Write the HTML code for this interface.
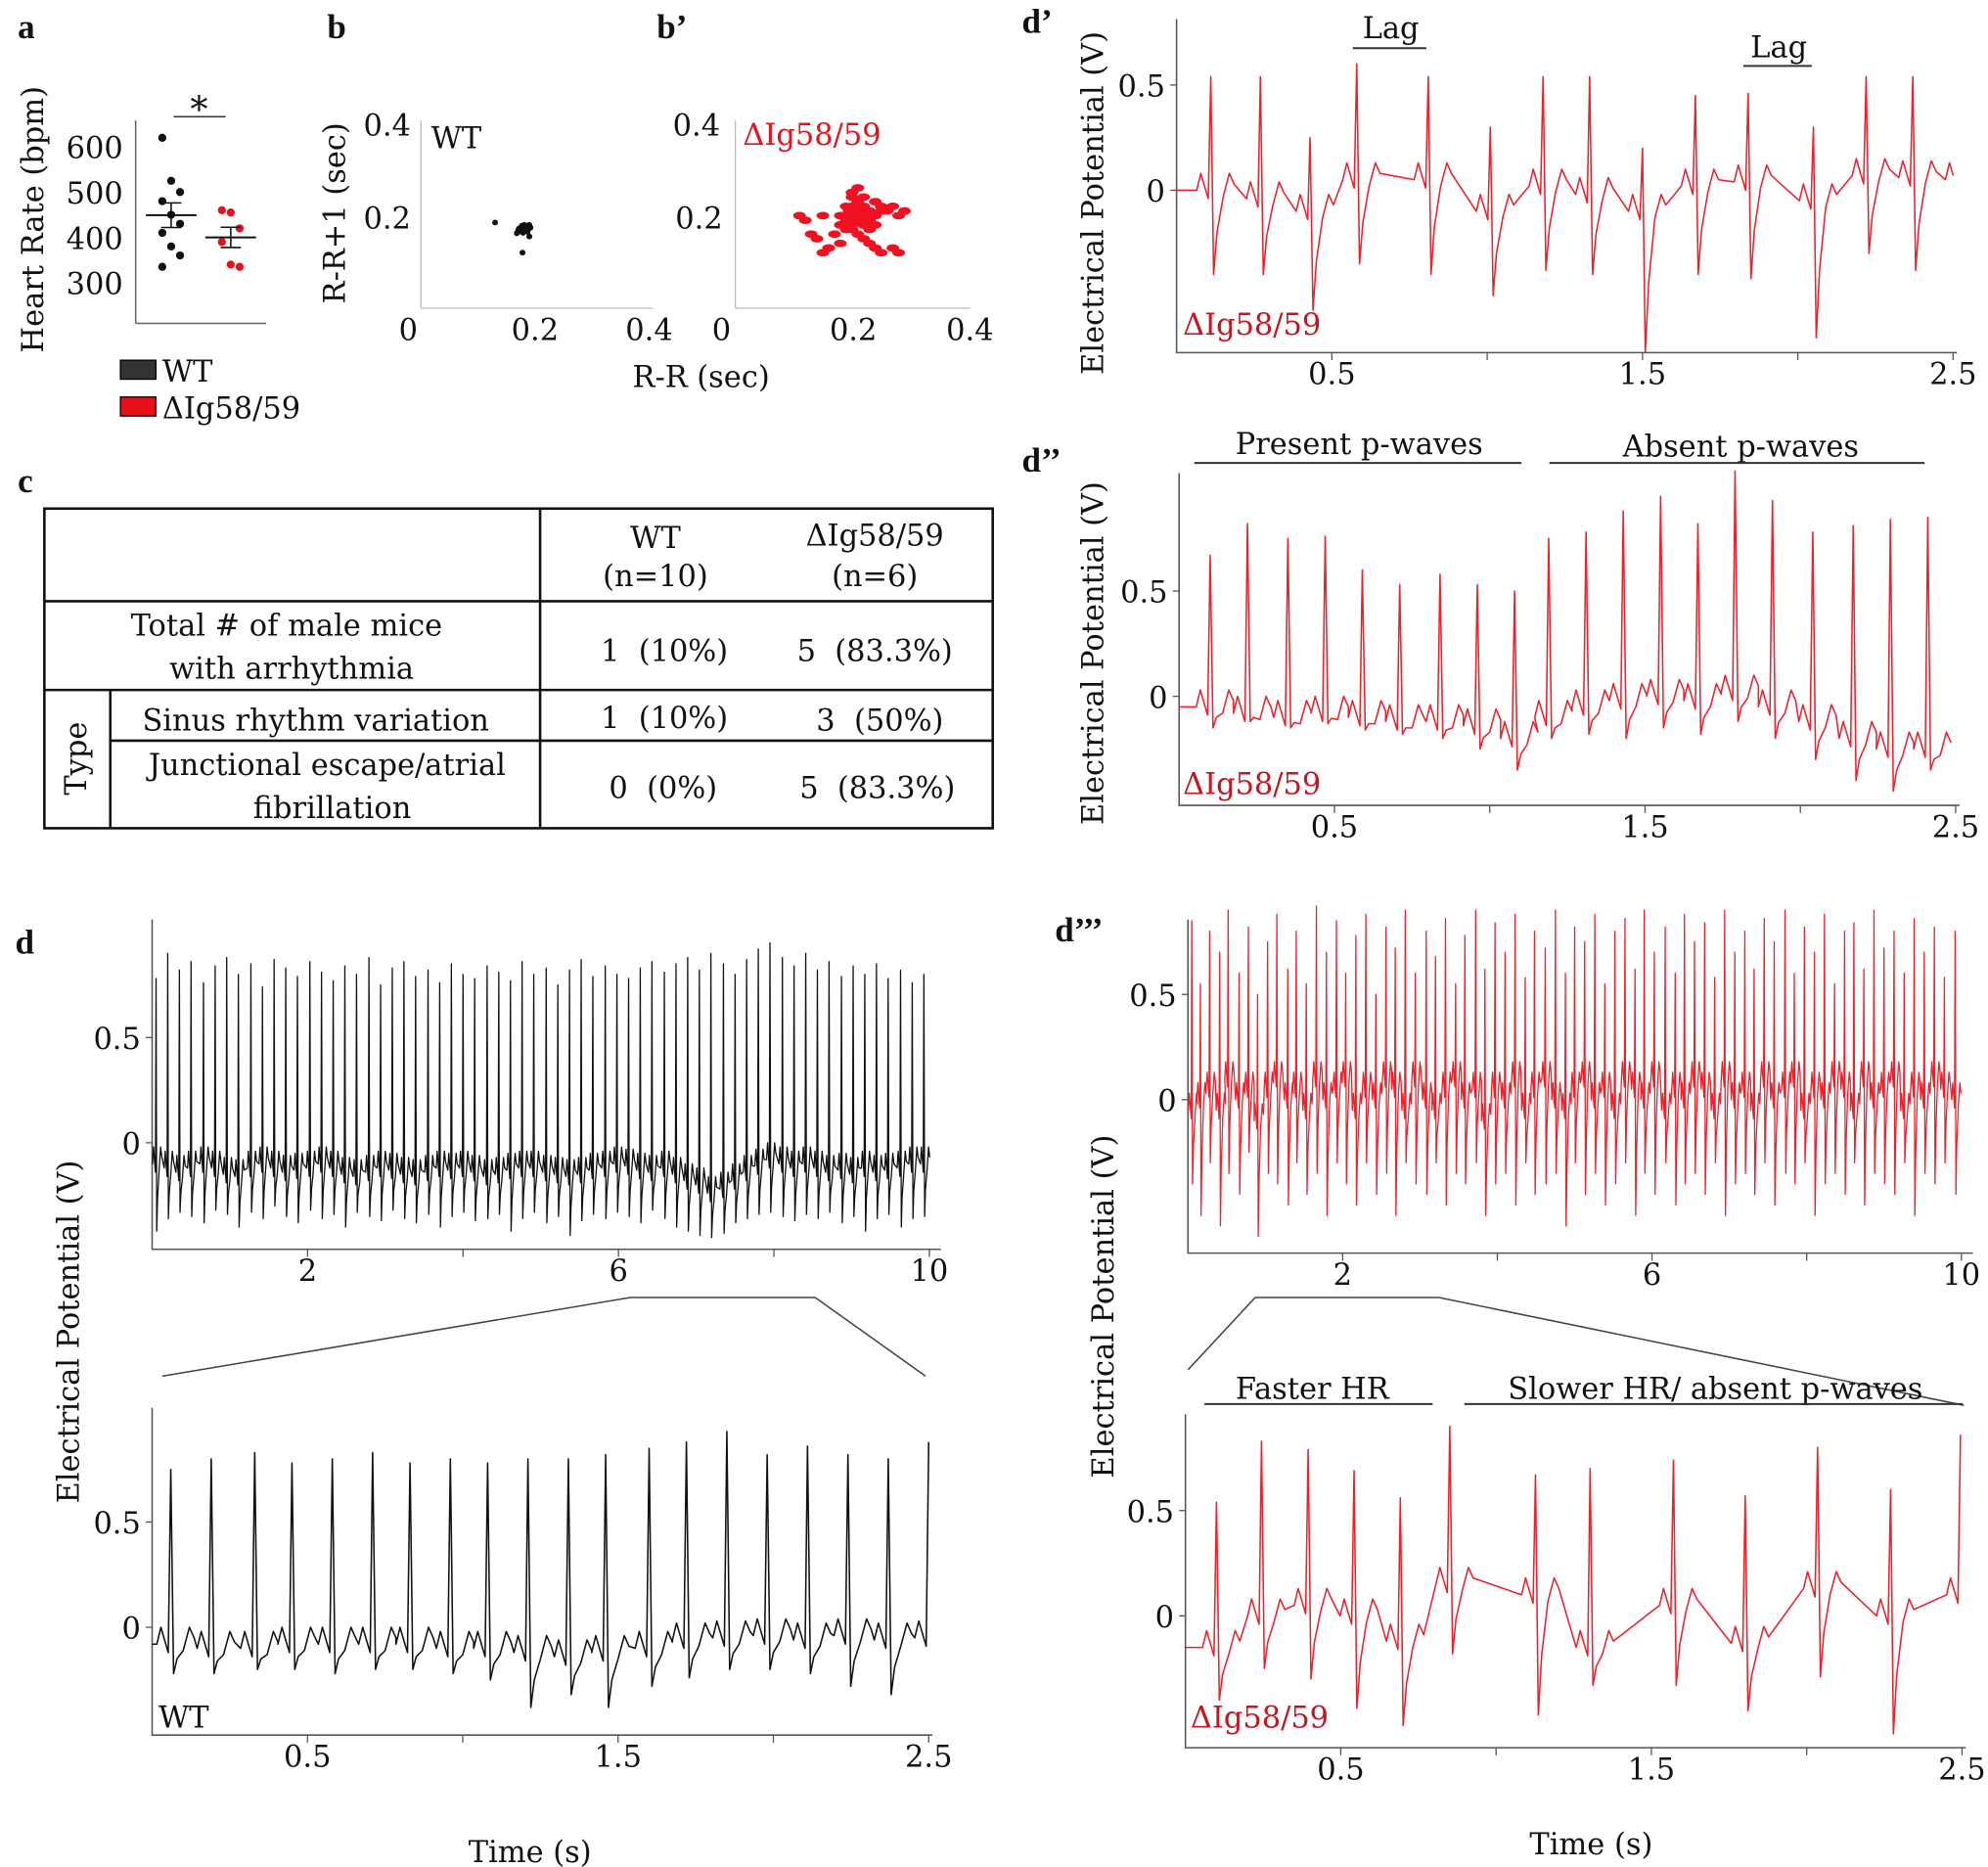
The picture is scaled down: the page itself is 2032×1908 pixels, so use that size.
<!DOCTYPE html>
<html><head><meta charset="utf-8"><style>
html,body{margin:0;padding:0;background:#fff}
svg{display:block}
text{font-family:"DejaVu Serif","Liberation Serif",serif;fill:#111;font-size:23.5px}
.b{font-weight:bold;font-family:"Liberation Serif",serif;font-size:27px}
</style></head><body>
<svg id="fig" xmlns="http://www.w3.org/2000/svg" width="2032" height="1908" viewBox="0 0 1568 1472" preserveAspectRatio="none">
<g>
<text class="b" x="14" y="30">a</text>
<text transform="translate(34,173) rotate(-90)" text-anchor="middle">Heart Rate (bpm)</text>
<line x1="107" y1="95" x2="107" y2="255" stroke="#666" stroke-width="1.2"/>
<line x1="107" y1="255" x2="210" y2="255" stroke="#666" stroke-width="1.2"/>
<text x="157" y="96" text-anchor="middle" style="font-size:28px">*</text>
<line x1="137" y1="92" x2="178" y2="92" stroke="#333" stroke-width="1.2"/>
<g id="aTicks"></g><g id="aPts"></g>
<rect x="95" y="284" width="28" height="15" fill="#333" stroke="#000"/>
<text x="128" y="301">WT</text>
<rect x="95" y="313" width="28" height="15" fill="#e8101a" stroke="#000"/>
<text x="128" y="330">ΔIg58/59</text>
</g>
<g>
<text class="b" x="258" y="30">b</text>
<text class="b" x="518" y="30">b’</text>
<text transform="translate(272,168) rotate(-90)" text-anchor="middle">R-R+1 (sec)</text>
<line x1="332" y1="95" x2="332" y2="243" stroke="#bbb"/>
<line x1="332" y1="243" x2="515" y2="243" stroke="#bbb"/>
<line x1="580" y1="95" x2="580" y2="243" stroke="#bbb"/>
<line x1="580" y1="243" x2="765" y2="243" stroke="#bbb"/>
<text x="324" y="107" text-anchor="end">0.4</text>
<text x="324" y="180" text-anchor="end">0.2</text>
<text x="322" y="268" text-anchor="middle">0</text>
<text x="422" y="268" text-anchor="middle">0.2</text>
<text x="512" y="268" text-anchor="middle">0.4</text>
<text x="568" y="107" text-anchor="end">0.4</text>
<text x="570" y="180" text-anchor="end">0.2</text>
<text x="569" y="268" text-anchor="middle">0</text>
<text x="673" y="268" text-anchor="middle">0.2</text>
<text x="765" y="268" text-anchor="middle">0.4</text>
<text x="340" y="117">WT</text>
<text x="586" y="114" style="fill:#e8101a">ΔIg58/59</text>
<text x="553" y="305" text-anchor="middle">R-R (sec)</text>
<g id="bPts"></g>
</g>
<g>
<text class="b" x="14" y="388">c</text>
<rect x="35" y="401" width="748" height="252" fill="none" stroke="#111" stroke-width="2"/>
<line x1="426" y1="401" x2="426" y2="653" stroke="#111" stroke-width="2"/>
<line x1="35" y1="474" x2="783" y2="474" stroke="#111" stroke-width="2"/>
<line x1="35" y1="544" x2="783" y2="544" stroke="#111" stroke-width="2"/>
<line x1="87" y1="584" x2="783" y2="584" stroke="#111" stroke-width="2"/>
<line x1="87" y1="544" x2="87" y2="653" stroke="#111" stroke-width="2"/>
<text x="517" y="432" text-anchor="middle">WT</text>
<text x="517" y="462" text-anchor="middle">(n=10)</text>
<text x="690" y="430" text-anchor="middle">ΔIg58/59</text>
<text x="690" y="462" text-anchor="middle">(n=6)</text>
<text x="226" y="501" text-anchor="middle">Total # of male mice</text>
<text x="230" y="535" text-anchor="middle">with arrhythmia</text>
<text x="524" y="521" text-anchor="middle" xml:space="preserve">1  (10%)</text>
<text x="690" y="521" text-anchor="middle" xml:space="preserve">5  (83.3%)</text>
<text transform="translate(68,598) rotate(-90)" text-anchor="middle">Type</text>
<text x="249" y="576" text-anchor="middle">Sinus rhythm variation</text>
<text x="524" y="574" text-anchor="middle" xml:space="preserve">1  (10%)</text>
<text x="694" y="576" text-anchor="middle" xml:space="preserve">3  (50%)</text>
<text x="258" y="611" text-anchor="middle">Junctional escape/atrial</text>
<text x="262" y="645" text-anchor="middle">fibrillation</text>
<text x="523" y="629" text-anchor="middle" xml:space="preserve">0  (0%)</text>
<text x="692" y="629" text-anchor="middle" xml:space="preserve">5  (83.3%)</text>
</g>
<g>
<text class="b" x="12" y="752">d</text>
<text transform="translate(62,1050) rotate(-90)" text-anchor="middle">Electrical Potential (V)</text>
<text x="418" y="1468" text-anchor="middle">Time (s)</text>
<text x="125" y="1362">WT</text>
<polyline points="128,1085 497,1023 643,1023 730,1085" fill="none" stroke="#444" stroke-width="1.2"/>
<text class="b" x="806" y="26">d’</text>
<text transform="translate(870,160) rotate(-90)" text-anchor="middle">Electrical Potential (V)</text>
<text x="1097" y="30" text-anchor="middle">Lag</text>
<line x1="1067" y1="38" x2="1125" y2="38" stroke="#333" stroke-width="1.5"/>
<text x="1403" y="45" text-anchor="middle">Lag</text>
<line x1="1375" y1="52" x2="1429" y2="52" stroke="#333" stroke-width="1.5"/>
<text x="933" y="264" style="fill:#c8141e">ΔIg58/59</text>
<text class="b" x="806" y="372">d’’</text>
<text transform="translate(870,515) rotate(-90)" text-anchor="middle">Electrical Potential (V)</text>
<text x="1072" y="358" text-anchor="middle">Present p-waves</text>
<line x1="942" y1="365" x2="1200" y2="365" stroke="#333" stroke-width="1.5"/>
<text x="1373" y="360" text-anchor="middle">Absent p-waves</text>
<line x1="1222" y1="365" x2="1518" y2="365" stroke="#333" stroke-width="1.5"/>
<text x="933" y="626" style="fill:#c8141e">ΔIg58/59</text>
<text class="b" x="832" y="742">d’’’</text>
<text transform="translate(878,1030) rotate(-90)" text-anchor="middle">Electrical Potential (V)</text>
<polyline points="937,1080 990,1023 1135,1023 1549,1108" fill="none" stroke="#444" stroke-width="1.2"/>
<text x="1035" y="1103" text-anchor="middle">Faster HR</text>
<line x1="950" y1="1107" x2="1130" y2="1107" stroke="#333" stroke-width="1.5"/>
<text x="1353" y="1103" text-anchor="middle">Slower HR/ absent p-waves</text>
<line x1="1155" y1="1107" x2="1548" y2="1107" stroke="#333" stroke-width="1.5"/>
<text x="939" y="1362" style="fill:#c8141e">ΔIg58/59</text>
<text x="1255" y="1462" text-anchor="middle">Time (s)</text>
</g>
<g id="traces"></g>
</svg>
<script>
const NS="http://www.w3.org/2000/svg";
// ---- panel a data ----
const hrWT=[620,525,500,480,450,430,410,380,360,335];
const hrKO=[460,455,420,390,340,335];
const hrTicks=[300,400,500,600];
// ---- panel b data ----
const rrWTx=[0.17,0.175,0.18,0.185,0.19,0.172,0.178,0.183,0.188,0.192,0.168,0.176,0.181,0.186,0.174,0.179,0.184,0.189,0.171,0.177,0.182,0.187,0.13,0.178,0.19];
const rrWTy=[0.165,0.17,0.175,0.178,0.18,0.172,0.168,0.173,0.176,0.174,0.162,0.176,0.18,0.17,0.166,0.163,0.168,0.172,0.17,0.178,0.166,0.165,0.185,0.12,0.155];
const rrKOx=[0.2,0.21,0.22,0.19,0.23,0.2,0.21,0.22,0.24,0.25,0.18,0.19,0.2,0.21,0.22,0.23,0.26,0.27,0.28,0.29,0.17,0.18,0.2,0.21,0.22,0.24,0.25,0.19,0.2,0.21,0.23,0.22,0.18,0.16,0.15,0.12,0.11,0.13,0.14,0.15,0.16,0.23,0.24,0.25,0.27,0.28,0.2,0.21,0.22,0.19,0.2,0.21,0.22,0.23,0.24,0.2,0.21,0.215,0.205,0.195];
const rrKOy=[0.2,0.21,0.2,0.19,0.21,0.22,0.23,0.22,0.2,0.21,0.18,0.17,0.18,0.19,0.18,0.19,0.21,0.22,0.2,0.21,0.16,0.2,0.25,0.26,0.24,0.23,0.22,0.22,0.17,0.16,0.17,0.15,0.14,0.13,0.2,0.19,0.2,0.16,0.15,0.12,0.13,0.14,0.13,0.12,0.13,0.12,0.24,0.2,0.21,0.2,0.19,0.2,0.19,0.2,0.18,0.21,0.22,0.2,0.19,0.21];
// ---- panel d: WT 10 s ----
const wtT=[0.05,0.2,0.35,0.5,0.66,0.81,0.96,1.11,1.27,1.42,1.57,1.72,1.87,2.03,2.18,2.33,2.48,2.63,2.79,2.94,3.09,3.24,3.39,3.55,3.7,3.85,4.0,4.15,4.31,4.46,4.61,4.76,4.91,5.07,5.22,5.37,5.52,5.67,5.83,5.98,6.13,6.28,6.43,6.59,6.74,6.89,7.04,7.19,7.35,7.5,7.65,7.8,7.95,8.11,8.26,8.41,8.56,8.71,8.87,9.02,9.17,9.32,9.47,9.63,9.78,9.93];
const wtR=[0.78,0.9,0.82,0.86,0.76,0.84,0.88,0.8,0.85,0.74,0.87,0.83,0.79,0.86,0.81,0.77,0.84,0.8,0.88,0.75,0.83,0.86,0.79,0.82,0.76,0.85,0.8,0.78,0.84,0.81,0.77,0.86,0.8,0.83,0.75,0.82,0.87,0.79,0.84,0.8,0.78,0.83,0.86,0.81,0.85,0.88,0.82,0.9,0.85,0.8,0.87,0.92,0.95,0.88,0.84,0.9,0.82,0.86,0.79,0.84,0.8,0.85,0.78,0.82,0.76,0.8];
const wtS=[-0.42,-0.36,-0.33,-0.35,-0.38,-0.32,-0.34,-0.4,-0.33,-0.36,-0.3,-0.35,-0.38,-0.32,-0.36,-0.34,-0.4,-0.33,-0.35,-0.37,-0.32,-0.36,-0.38,-0.34,-0.4,-0.35,-0.33,-0.37,-0.36,-0.34,-0.42,-0.36,-0.33,-0.38,-0.35,-0.44,-0.37,-0.34,-0.36,-0.33,-0.35,-0.38,-0.32,-0.36,-0.4,-0.42,-0.44,-0.45,-0.43,-0.38,-0.36,-0.34,-0.33,-0.35,-0.37,-0.34,-0.36,-0.33,-0.38,-0.35,-0.42,-0.36,-0.34,-0.4,-0.36,-0.35];
const wtB=[-0.1,-0.12,-0.14,-0.12,-0.1,-0.12,-0.15,-0.16,-0.12,-0.1,-0.12,-0.14,-0.13,-0.12,-0.1,-0.12,-0.15,-0.16,-0.14,-0.12,-0.13,-0.15,-0.16,-0.14,-0.12,-0.13,-0.12,-0.14,-0.16,-0.15,-0.13,-0.12,-0.12,-0.14,-0.15,-0.16,-0.15,-0.13,-0.12,-0.1,-0.11,-0.13,-0.14,-0.12,-0.15,-0.18,-0.2,-0.24,-0.22,-0.18,-0.14,-0.11,-0.08,-0.1,-0.12,-0.1,-0.12,-0.14,-0.13,-0.15,-0.12,-0.14,-0.13,-0.12,-0.1,-0.1];
// ---- panel d: WT 2.5 s ----
const wzT=[0.06,0.19,0.33,0.45,0.58,0.71,0.83,0.96,1.08,1.21,1.34,1.46,1.6,1.72,1.85,1.98,2.11,2.24,2.37,2.5];
const wzR=[0.75,0.8,0.83,0.78,0.8,0.83,0.78,0.8,0.78,0.8,0.8,0.82,0.85,0.88,0.93,0.82,0.86,0.82,0.8,0.88];
const wzS=[-0.22,-0.22,-0.2,-0.2,-0.22,-0.2,-0.2,-0.22,-0.25,-0.38,-0.32,-0.38,-0.28,-0.24,-0.2,-0.2,-0.22,-0.28,-0.32,-0.12];
const wzB=[-0.08,-0.1,-0.1,-0.08,-0.08,-0.08,-0.08,-0.1,-0.1,-0.12,-0.14,-0.12,-0.1,-0.06,-0.05,-0.04,-0.06,-0.04,-0.06,-0.05];
// ---- d' ----
const d1T=[0.11,0.27,0.43,0.58,0.81,1.01,1.18,1.33,1.50,1.67,1.84,2.05,2.22,2.37,2.52];
const d1R=[0.54,0.54,0.25,0.6,0.54,0.3,0.54,0.54,0.2,0.45,0.46,0.3,0.54,0.54,0.4];
const d1S=[-0.4,-0.4,-0.57,-0.35,-0.4,-0.5,-0.38,-0.4,-0.77,-0.4,-0.42,-0.7,-0.3,-0.38,-0.1];
const d1B=[0.0,-0.04,-0.1,0.05,0.05,-0.1,0.02,-0.02,-0.1,0.02,0.04,-0.05,0.07,0.06,0.05];
// ---- d'' ----
const d2T=[0.1,0.22,0.35,0.47,0.59,0.71,0.84,0.96,1.08,1.19,1.31,1.43,1.55,1.67,1.79,1.91,2.04,2.17,2.29,2.41];
const d2R=[0.67,0.82,0.75,0.76,0.6,0.53,0.58,0.53,0.5,0.75,0.78,0.88,0.95,0.82,1.07,0.93,0.78,0.81,0.84,0.85];
const d2S=[-0.15,-0.12,-0.15,-0.13,-0.16,-0.18,-0.2,-0.25,-0.35,-0.2,-0.18,-0.2,-0.15,-0.18,-0.12,-0.2,-0.3,-0.4,-0.45,-0.35];
const d2B=[-0.05,-0.08,-0.1,-0.08,-0.1,-0.12,-0.12,-0.14,-0.2,-0.1,-0.05,-0.02,0.0,-0.02,0.02,-0.05,-0.12,-0.2,-0.25,-0.25];
// ---- d''' 10 s ----
const d3T=[0.05,0.16,0.28,0.41,0.52,0.66,0.78,0.9,1.03,1.15,1.29,1.4,1.53,1.66,1.79,1.92,2.04,2.17,2.3,2.43,2.56,2.68,2.81,2.94,3.08,3.2,3.33,3.46,3.58,3.72,3.84,3.97,4.1,4.23,4.36,4.48,4.62,4.75,4.88,5.0,5.13,5.26,5.39,5.52,5.65,5.78,5.9,6.03,6.17,6.3,6.42,6.55,6.68,6.81,6.94,7.07,7.2,7.32,7.45,7.58,7.72,7.84,7.97,8.1,8.23,8.36,8.49,8.61,8.74,8.87,9.0,9.13,9.26,9.39,9.52,9.65,9.78,9.92];
const d3R=[0.85,0.55,0.8,0.7,0.9,0.6,0.82,0.5,0.75,0.88,0.62,0.8,0.55,0.92,0.7,0.85,0.6,0.78,0.88,0.5,0.82,0.72,0.9,0.6,0.8,0.68,0.86,0.55,0.78,0.9,0.62,0.84,0.7,0.88,0.58,0.8,0.72,0.9,0.6,0.82,0.75,0.88,0.55,0.8,0.86,0.62,0.9,0.7,0.82,0.6,0.88,0.75,0.84,0.58,0.9,0.7,0.8,0.62,0.86,0.75,0.9,0.6,0.82,0.7,0.88,0.55,0.8,0.84,0.62,0.9,0.72,0.8,0.6,0.86,0.7,0.82,0.58,0.8];
const d3S=[-0.4,-0.55,-0.3,-0.6,-0.35,-0.45,-0.25,-0.65,-0.35,-0.4,-0.5,-0.3,-0.45,-0.35,-0.55,-0.3,-0.4,-0.5,-0.3,-0.45,-0.35,-0.55,-0.3,-0.4,-0.45,-0.3,-0.5,-0.35,-0.4,-0.3,-0.55,-0.4,-0.35,-0.5,-0.3,-0.45,-0.4,-0.35,-0.6,-0.3,-0.45,-0.35,-0.5,-0.4,-0.3,-0.55,-0.35,-0.45,-0.3,-0.5,-0.4,-0.35,-0.45,-0.3,-0.55,-0.4,-0.35,-0.45,-0.3,-0.5,-0.35,-0.4,-0.3,-0.55,-0.4,-0.35,-0.45,-0.3,-0.5,-0.35,-0.4,-0.45,-0.3,-0.55,-0.35,-0.4,-0.3,-0.45];
const d3B=[-0.05,0.0,0.05,-0.05,0.1,0.0,0.05,-0.1,0.05,0.1,0.0,0.05,-0.05,0.1,0.0,0.05,0.1,-0.05,0.05,0.0,0.1,0.05,-0.05,0.1,0.0,-0.05,0.05,0.1,0.0,0.05,-0.1,0.05,0.0,0.1,-0.05,0.05,0.1,0.0,-0.05,0.05,0.1,0.0,0.05,-0.05,0.1,0.05,0.0,0.1,-0.05,0.05,0.0,0.1,0.05,-0.05,0.1,0.0,0.05,-0.05,0.1,0.0,0.05,0.1,-0.05,0.05,0.0,0.1,0.05,-0.05,0.1,0.0,0.05,0.1,-0.05,0.05,0.0,0.1,0.05,0.0];
// ---- d''' 2.5 s ----
const d4T=[0.1,0.245,0.395,0.543,0.692,0.851,1.127,1.303,1.571,1.802,2.035,2.27,2.495];
const d4R=[0.54,0.83,0.79,0.69,0.56,0.9,0.67,0.7,0.74,0.57,0.8,0.6,0.86];
const d4S=[-0.4,-0.25,-0.3,-0.44,-0.52,-0.18,-0.47,-0.33,-0.33,-0.45,-0.29,-0.56,-0.22];
const d4B=[-0.15,0.0,0.05,0.0,-0.12,0.15,0.1,-0.15,0.05,-0.13,0.13,0.0,0.1];

function el(tag,attrs,parent){const e=document.createElementNS(NS,tag);for(const k in attrs)e.setAttribute(k,attrs[k]);parent.appendChild(e);return e;}

const aY=v=>255-(v-210)*0.357;
const aT=document.getElementById('aTicks');
hrTicks.forEach(v=>{
  const t=el('text',{x:97,y:aY(v)+9,'text-anchor':'end'},aT);
  t.textContent=v;
  
  
});
const aP=document.getElementById('aPts');
function dotGroup(vals,cx,color,name){
  vals.forEach((v,i)=>{
    const c=el('circle',{cx:cx+((i%3)-1)*7,cy:aY(v),r:3.2,fill:color},aP);
    
    
  });
  const m=vals.reduce((a,b)=>a+b,0)/vals.length;
  const sd=Math.sqrt(vals.reduce((a,b)=>a+(b-m)*(b-m),0)/(vals.length-1))/Math.sqrt(vals.length);
  const ml=el('line',{x1:cx-20,x2:cx+20,y1:aY(m),y2:aY(m),stroke:'#111','stroke-width':1.5},aP);
  
  
  const el2=el('path',{d:`M${cx-8},${aY(m+sd)}H${cx+8}M${cx},${aY(m+sd)}V${aY(m-sd)}M${cx-8},${aY(m-sd)}H${cx+8}`,stroke:'#111',fill:'none','stroke-width':1.2},aP);
  
  
}
dotGroup(hrWT,135,'#111','wt');
dotGroup(hrKO,182,'#e8101a','mutant');

const bP=document.getElementById('bPts');
rrWTx.forEach((x,i)=>{
  const c=el('circle',{cx:332+x*450,cy:243-rrWTy[i]*365,r:2.3,fill:'#111'},bP);
  
  
});
rrKOx.forEach((x,i)=>{
  const c=el('ellipse',{cx:580+x*460,cy:243-rrKOy[i]*365,rx:5,ry:3,fill:'#f01020'},bP);
  
  
});

const TR=document.getElementById('traces');
function panel(name,o){
  const g=el('g',{},TR);
  
  
  const X=t=>o.x0+t*o.xs, Y=v=>o.y0-v*o.ys;
  const ax=el('path',{d:`M${o.x0},${o.top}V${o.bot}H${X(o.tmax)+3}`,stroke:'#555',fill:'none','stroke-width':1.2},g);
  
  
  o.yt.forEach(v=>{
    const tk=el('line',{x1:o.x0-5,x2:o.x0,y1:Y(v),y2:Y(v),stroke:'#555'},g);
    
    
    const t=el('text',{x:o.x0-9,y:Y(v)+9,'text-anchor':'end'},g);
    t.textContent=v;
    
    
  });
  o.xtm.forEach(v=>{
    const tk=el('line',{x1:X(v),x2:X(v),y1:o.bot,y2:o.bot+6,stroke:'#555'},g);
    
    
  });
  o.xt.forEach(v=>{
    const t=el('text',{x:X(v),y:o.bot+25,'text-anchor':'middle'},g);
    t.textContent=v;
    
    
  });
  const pts=[[0,o.B[0]]];
  o.T.forEach((t,i)=>{
    const b=o.B[i], s=o.S[i];
    const seq=[[-0.045,b],[-0.032,b+0.08],[-0.02,b+0.02],[-0.008,b-0.04],[0,o.R[i]],[0.009,s],[0.02,(s+b)/2],[0.04,b-0.03],[0.06,b+0.08],[0.075,b+0.03]];
    seq.forEach(([dt,v])=>{const tt=t+dt; if(tt>=0&&tt<=o.tmax) pts.push([tt,v]);});
  });
  const d='M'+pts.map(p=>X(p[0]).toFixed(1)+','+Y(p[1]).toFixed(1)).join('L');
  const p=el('path',{d:d,stroke:o.color,fill:'none','stroke-width':o.w,'stroke-linejoin':'round'},g);
  
  
}
panel('wt-10s',{x0:120,xs:61.3,y0:901,ys:166,top:725,bot:985,tmax:10.1,yt:[0.5,0],xt:[2,6,10],xtm:[2,4,6,8,10],T:wtT,R:wtR,S:wtS,B:wtB,color:'#111',w:1});
panel('wt-2.5s',{x0:120,xs:245,y0:1283,ys:166,top:1110,bot:1368,tmax:2.5,yt:[0.5,0],xt:[0.5,1.5,2.5],xtm:[0.5,1,1.5,2,2.5],T:wzT,R:wzR,S:wzS,B:wzB,color:'#111',w:1.2});
panel('d1',{x0:928,xs:245,y0:150,ys:166,top:15,bot:278,tmax:2.5,yt:[0.5,0],xt:[0.5,1.5,2.5],xtm:[0.5,1,1.5,2,2.5],T:d1T,R:d1R,S:d1S,B:d1B,color:'#f0202a',w:1.2});
panel('d2',{x0:930,xs:245,y0:549,ys:166,top:373,bot:635,tmax:2.5,yt:[0.5,0],xt:[0.5,1.5,2.5],xtm:[0.5,1,1.5,2,2.5],T:d2T,R:d2R,S:d2S,B:d2B,color:'#f0202a',w:1.2});
panel('d3-10s',{x0:937,xs:61,y0:867,ys:166,top:725,bot:988,tmax:10.1,yt:[0.5,0],xt:[2,6,10],xtm:[2,4,6,8,10],T:d3T,R:d3R,S:d3S,B:d3B,color:'#f0202a',w:1});
panel('d3-2.5s',{x0:935,xs:245,y0:1274,ys:166,top:1115,bot:1378,tmax:2.5,yt:[0.5,0],xt:[0.5,1.5,2.5],xtm:[0.5,1,1.5,2,2.5],T:d4T,R:d4R,S:d4S,B:d4B,color:'#f0202a',w:1.2});
</script>
</body></html>
